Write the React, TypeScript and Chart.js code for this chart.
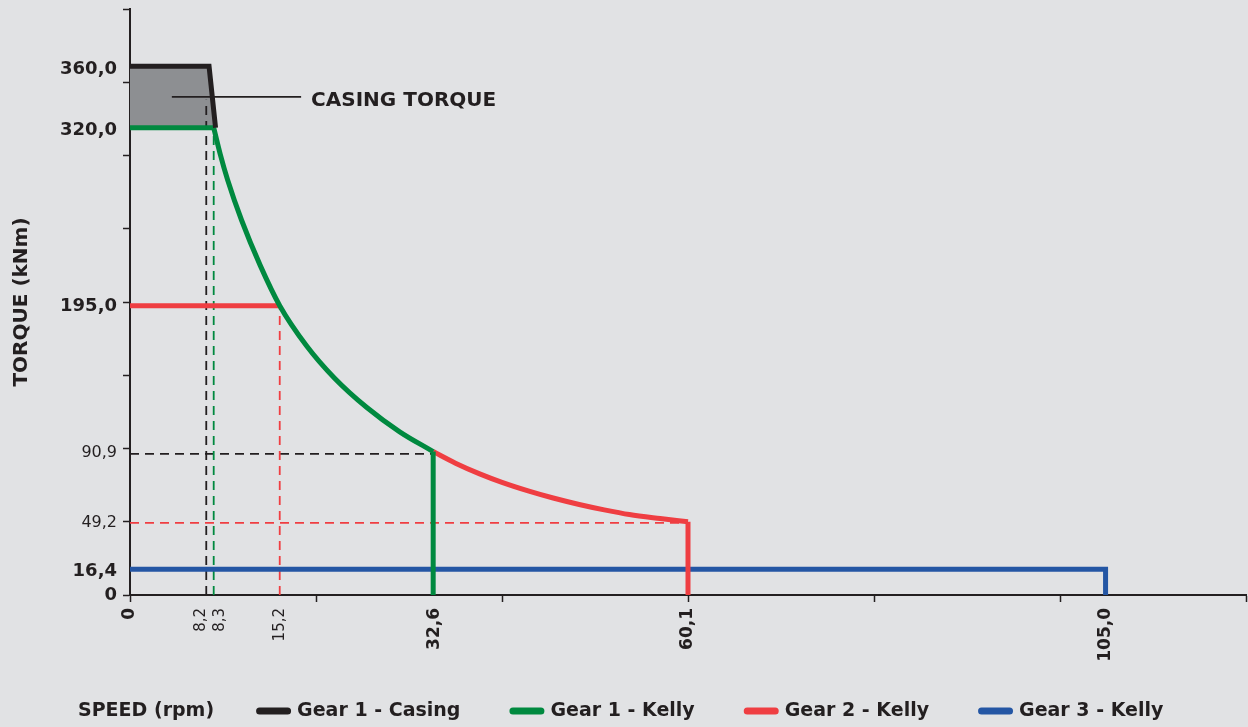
import React, { useEffect, useRef } from 'react';
import { Chart, registerables } from 'chart.js';

Chart.register(...registerables);

const BG = '#e1e2e4';
const INK = '#231f20';
const FONT = '"DejaVu Sans", sans-serif';

// ---- data (speed rpm, torque kNm) ----
// Gear 1 - Casing
const casingSpeed = [0, 8.5, 9.2];
const casingTorque = [361, 361, 319];
const casingFillBase = 319;

// Gear 1 - Kelly
const g1FlatSpeed = [0, 9.0];
const g1FlatTorque = [319, 319];
const g1CurveSpeed = [9.0, 9.7, 10.5, 12.0, 14.0, 16.1, 19.0, 22.0, 25.5, 29.0, 32.6];
const g1CurveTorque = [319, 301, 283.3, 255.8, 225, 197.5, 170, 148, 127.8, 111.4, 97.9];
const g1DropSpeed = [32.6, 32.6];
const g1DropTorque = [97.9, 0];

// Gear 2 - Kelly
const g2FlatSpeed = [0, 16.1];
const g2FlatTorque = [197.5, 197.5];
const g2CurveSpeed = [32.6, 35.0, 37.6, 40.0, 42.9, 45.5, 48.3, 51.0, 53.7, 57.0, 60.0];
const g2CurveTorque = [97.9, 90, 82.7, 76.9, 70.9, 66.2, 61.8, 58.1, 54.9, 52.2, 50];
const g2DropSpeed = [60.0, 60.0];
const g2DropTorque = [50, 0];

// Gear 3 - Kelly
const g3Speed = [0, 104.9, 104.9];
const g3Torque = [17.5, 17.5, 0];

// dashed guide lines
const guideBlackVSpeed = [8.2, 8.2];
const guideBlackVTorque = [0, 338];
const guideGreenVSpeed = [9.0, 9.0];
const guideGreenVTorque = [0, 319];
const guideRedVSpeed = [16.1, 16.1];
const guideRedVTorque = [0, 197.5];
const guideBlackHSpeed = [0, 32.6];
const guideBlackHTorque = [96.3, 96.3];
const guideRedHSpeed = [0, 60.0];
const guideRedHTorque = [49.3, 49.3];

// annotation leader
const leaderSpeed = [4.5, 18.4];
const leaderTorque = [340, 340];
const annotationText = 'CASING TORQUE';

// axis ticks
const xMarkTicks = [0, 20, 40, 60, 80, 100, 120];
const xLabelValues = [0, 7.6, 9.7, 16.1, 32.7, 60.0, 104.9];
const xLabelTexts = ['0', '8,2', '8,3', '15,2', '32,6', '60,1', '105,0'];
const xLabelBold = [true, false, false, false, true, true, true];

const yMarkTicks = [0, 50, 100, 150, 200, 250, 300, 350, 400];
const yLabelValues = [0, 16, 49.5, 97, 197, 317, 359];
const yLabelTexts = ['0', '16,4', '49,2', '90,9', '195,0', '320,0', '360,0'];
const yLabelBold = [true, true, false, false, true, true, true];

const axisTitleX = 'SPEED (rpm)';
const axisTitleY = 'TORQUE (kNm)';

const legendLabels = ['Gear 1 - Casing', 'Gear 1 - Kelly', 'Gear 2 - Kelly', 'Gear 3 - Kelly'];
const COLORS = {
  black: INK,
  green: '#00893f',
  red: '#ef3e42',
  blue: '#2456a4',
  fill: '#8d8f92',
};
const legendColors = [COLORS.black, COLORS.green, COLORS.red, COLORS.blue];

const zip = (xs: number[], ys: number[]) => xs.map((x, i) => ({ x, y: ys[i] }));

type TickInfo = { value: number; label: string; bold: boolean; mark: boolean };
function buildTicks(marks: number[], values: number[], texts: string[], bold: boolean[]): TickInfo[] {
  const list: TickInfo[] = [];
  const find = (v: number) => list.find((t) => Math.abs(t.value - v) < 1e-6);
  marks.forEach((v) => list.push({ value: v, label: '', bold: false, mark: true }));
  values.forEach((v, i) => {
    const t = find(v);
    if (t) {
      t.label = texts[i];
      t.bold = bold[i];
    } else list.push({ value: v, label: texts[i], bold: bold[i], mark: false });
  });
  return list.sort((a, b) => a.value - b.value);
}
const xTicks = buildTicks(xMarkTicks, xLabelValues, xLabelTexts, xLabelBold);
const yTicks = buildTicks(yMarkTicks, yLabelValues, yLabelTexts, yLabelBold);
const tickFor = (list: TickInfo[], v: number) => list.find((t) => Math.abs(t.value - v) < 1e-6);

const LW = 5;
const solid = (data: any[], color: string, order: number, extra: any = {}) => ({
  data,
  borderColor: color,
  backgroundColor: color,
  borderWidth: LW,
  pointRadius: 0,
  fill: false,
  order,
  ...extra,
});
const dashed = (data: any[], color: string) => ({
  data,
  borderColor: color,
  borderWidth: 1.8,
  borderDash: [9, 6],
  pointRadius: 0,
  fill: false,
  order: 10,
});

const bgPlugin = {
  id: 'bg',
  beforeDraw(chart: any) {
    const { ctx, width, height } = chart;
    ctx.save();
    ctx.fillStyle = BG;
    ctx.fillRect(0, 0, width, height);
    ctx.restore();
  },
};

const overlayPlugin = {
  id: 'overlay',
  afterDraw(chart: any) {
    const { ctx } = chart;
    const xs = chart.scales.x;
    const ys = chart.scales.y;
    ctx.save();
    // annotation text
    ctx.font = `bold 20px ${FONT}`;
    ctx.fillStyle = INK;
    ctx.textBaseline = 'middle';
    ctx.textAlign = 'left';
    ctx.fillText(annotationText, xs.getPixelForValue(leaderSpeed[1]) + 10, ys.getPixelForValue(leaderTorque[1]) + 4);

    // legend row
    const y = 711;
    let x = 78;
    ctx.font = `bold 19px ${FONT}`;
    ctx.fillText(axisTitleX, x, y);
    x += ctx.measureText(axisTitleX).width + 42;
    legendLabels.forEach((lab, i) => {
      ctx.fillStyle = legendColors[i];
      ctx.beginPath();
      (ctx as any).roundRect(x, y - 3.5, 35, 7, 3.5);
      ctx.fill();
      ctx.fillStyle = INK;
      ctx.fillText(lab, x + 41, y);
      x += 41 + ctx.measureText(lab).width + 49;
    });
    ctx.restore();
  },
};

export default function App() {
  const ref = useRef<HTMLCanvasElement | null>(null);
  useEffect(() => {
    if (!ref.current) return;
    const chart = new Chart(ref.current, {
      type: 'line',
      data: {
        datasets: [
          { ...solid(zip(leaderSpeed, leaderTorque), INK, 1), borderWidth: 1.6, label: 'leader' },
          solid(zip(casingSpeed, casingTorque), COLORS.black, 2, { label: legendLabels[0] }),
          solid(zip(g1FlatSpeed, g1FlatTorque), COLORS.green, 3),
          solid(zip(g1CurveSpeed, g1CurveTorque), COLORS.green, 3, { label: legendLabels[1], cubicInterpolationMode: 'monotone' }),
          solid(zip(g1DropSpeed, g1DropTorque), COLORS.green, 3),
          solid(zip(g2FlatSpeed, g2FlatTorque), COLORS.red, 4),
          solid(zip(g2CurveSpeed, g2CurveTorque), COLORS.red, 4, { label: legendLabels[2], cubicInterpolationMode: 'monotone' }),
          solid(zip(g2DropSpeed, g2DropTorque), COLORS.red, 4),
          solid(zip(g3Speed, g3Torque), COLORS.blue, 5, { label: legendLabels[3] }),
          dashed(zip(guideBlackVSpeed, guideBlackVTorque), INK),
          dashed(zip(guideGreenVSpeed, guideGreenVTorque), COLORS.green),
          dashed(zip(guideRedVSpeed, guideRedVTorque), COLORS.red),
          dashed(zip(guideBlackHSpeed, guideBlackHTorque), INK),
          dashed(zip(guideRedHSpeed, guideRedHTorque), COLORS.red),
          {
            data: zip(casingSpeed, casingTorque),
            borderWidth: 0,
            borderColor: 'rgba(0,0,0,0)',
            backgroundColor: COLORS.fill,
            fill: { value: casingFillBase },
            pointRadius: 0,
            order: 20,
          },
        ] as any,
      },
      options: {
        responsive: false,
        animation: false,
        devicePixelRatio: 1,
        layout: { padding: { top: 9, right: 2, left: 0, bottom: 0 } },
        elements: {
          point: { radius: 0 },
          line: { borderCapStyle: 'butt', borderJoinStyle: 'miter' },
        },
        plugins: { legend: { display: false }, tooltip: { enabled: false } },
        scales: {
          x: {
            type: 'linear',
            min: 0,
            max: 120,
            afterBuildTicks: (s: any) => {
              s.ticks = xTicks.map((t) => ({ value: t.value }));
            },
            afterFit: (s: any) => {
              s.height = 132;
              s.paddingLeft = 0;
              s.paddingRight = 0;
            },
            ticks: {
              autoSkip: false,
              minRotation: 90,
              maxRotation: 90,
              padding: 6,
              color: INK,
              callback: (v: any) => tickFor(xTicks, Number(v))?.label ?? '',
              font: (ctx: any) => {
                const t = ctx.tick ? tickFor(xTicks, ctx.tick.value) : undefined;
                const bold = t ? t.bold : false;
                return { family: FONT, size: bold ? 17 : 15, weight: bold ? 'bold' : 'normal' };
              },
            },
            grid: {
              drawOnChartArea: false,
              drawTicks: true,
              tickLength: 7,
              tickWidth: 1.5,
              tickColor: (ctx: any) => {
                const t = ctx.tick ? tickFor(xTicks, ctx.tick.value) : undefined;
                return t && t.mark ? INK : 'rgba(0,0,0,0)';
              },
            },
            border: { display: true, color: INK, width: 2 },
          },
          y: {
            type: 'linear',
            min: 0,
            max: 400,
            afterBuildTicks: (s: any) => {
              s.ticks = yTicks.map((t) => ({ value: t.value }));
            },
            afterFit: (s: any) => {
              s.width = 130;
              s.paddingTop = 0;
              s.paddingBottom = 0;
            },
            title: {
              display: true,
              text: axisTitleY,
              color: INK,
              font: { family: FONT, size: 20, weight: 'bold' },
              padding: { top: 10, bottom: 0 },
            },
            ticks: {
              autoSkip: false,
              padding: 6,
              color: INK,
              callback: (v: any) => tickFor(yTicks, Number(v))?.label ?? '',
              font: (ctx: any) => {
                const t = ctx.tick ? tickFor(yTicks, ctx.tick.value) : undefined;
                const bold = t ? t.bold : false;
                return { family: FONT, size: bold ? 18 : 16, weight: bold ? 'bold' : 'normal' };
              },
            },
            grid: {
              drawOnChartArea: false,
              drawTicks: true,
              tickLength: 7,
              tickWidth: 1.5,
              tickColor: (ctx: any) => {
                const t = ctx.tick ? tickFor(yTicks, ctx.tick.value) : undefined;
                return t && t.mark ? INK : 'rgba(0,0,0,0)';
              },
            },
            border: { display: true, color: INK, width: 2 },
          },
        },
      } as any,
      plugins: [bgPlugin, overlayPlugin],
    });
    return () => chart.destroy();
  }, []);

  return (
    <div style={{ position: 'absolute', left: 0, top: 0, width: 1248, height: 727, background: BG }}>
      <canvas ref={ref} width={1248} height={727} style={{ display: 'block', width: 1248, height: 727 }} />
    </div>
  );
}
